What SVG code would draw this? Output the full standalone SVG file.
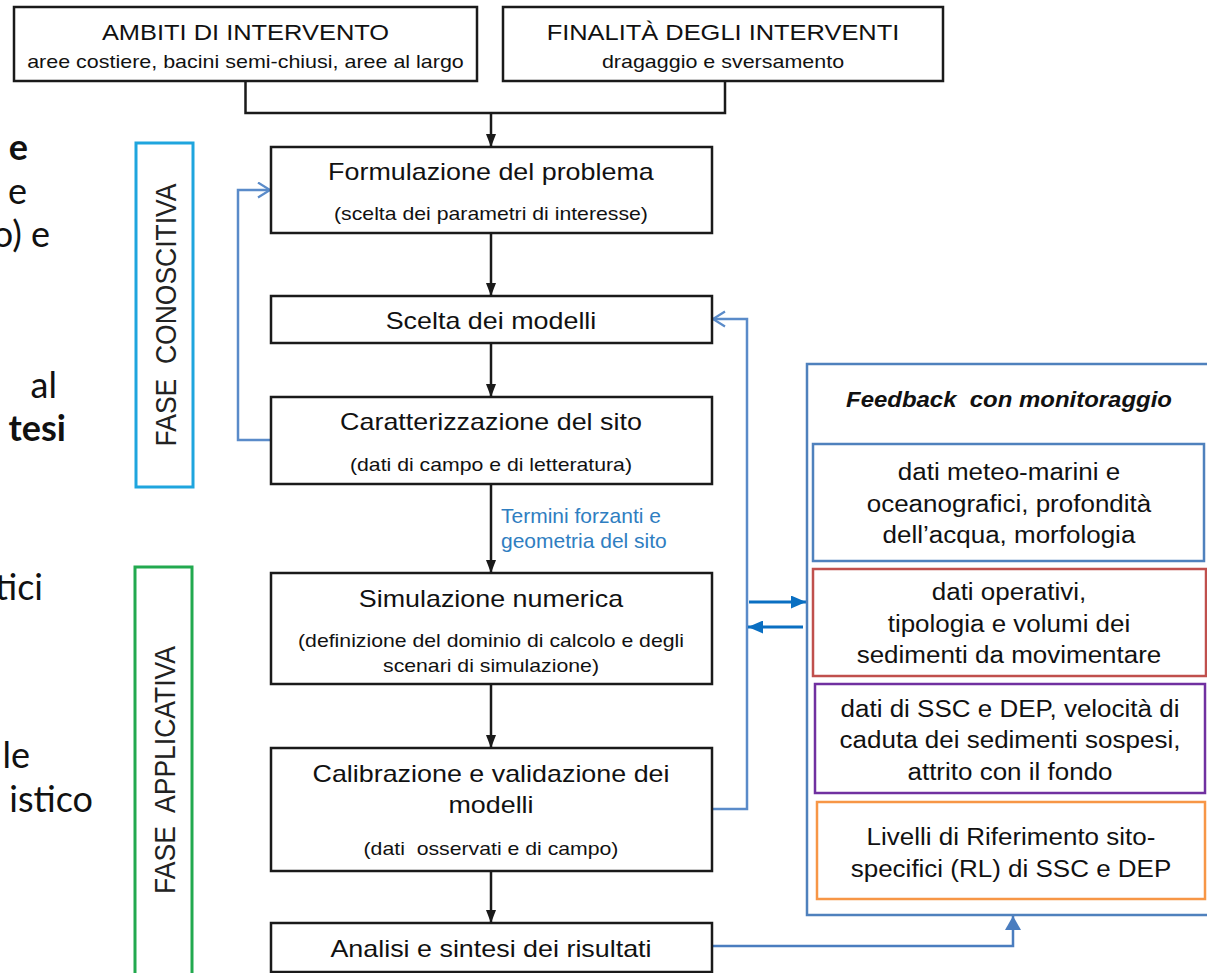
<svg xmlns="http://www.w3.org/2000/svg" width="1207" height="973" viewBox="0 0 1207 973">
  <style>
    .box { fill: #ffffff; stroke: #1a1a1a; stroke-width: 2.5; }
    .t { font-family: "Liberation Sans", Arial, sans-serif; fill: #111111; text-anchor: middle;
         transform-box: fill-box; transform-origin: center; transform: scaleX(1.13); }
    .title { font-size: 23.8px; }
    .sub { font-size: 18.8px; }
    .top { font-size: 22.5px; }
    .topsub { font-size: 19px; }
    .panel { font-size: 23px; }
    .fb { font-size: 21.2px; font-weight: bold; font-style: italic; }
    .vlab { font-family: "Liberation Sans", Arial, sans-serif; font-size: 26.5px; fill: #222222; text-anchor: middle; }
    .lbl { font-family: "Liberation Sans", Arial, sans-serif; font-size: 21px; fill: #2f7ec1; }
    .slide { font-family: Lato, "Open Sans", sans-serif; font-size: 36px; fill: #111111; text-anchor: end; }
    .bold { font-weight: bold; }
    .conn { fill: none; stroke: #1a1a1a; stroke-width: 2.5; }
    .loop { fill: none; stroke: #5a8bc9; stroke-width: 2.5; }
    .dbl { fill: none; stroke: #0a6fc2; stroke-width: 3; }
    .up { fill: none; stroke: #4a7dbf; stroke-width: 2.5; }
  </style>
  <defs>
    <marker id="ah" markerUnits="userSpaceOnUse" markerWidth="13" markerHeight="10" refX="13" refY="5" orient="auto">
      <path d="M0,0 L13,5 L0,10 z" fill="#1a1a1a"/>
    </marker>
    <marker id="chev" markerUnits="userSpaceOnUse" markerWidth="16" markerHeight="18" refX="13" refY="8.5" orient="auto">
      <path d="M1,1 L13,8.5 L1,16" fill="none" stroke="#5a8bc9" stroke-width="2.2"/>
    </marker>
    <marker id="solid" markerUnits="userSpaceOnUse" markerWidth="15" markerHeight="13" refX="15" refY="6.5" orient="auto">
      <path d="M0,0 L15,6.5 L0,13 z" fill="#0a6fc2"/>
    </marker>
    <marker id="solidUp" markerUnits="userSpaceOnUse" markerWidth="14" markerHeight="16" refX="14" refY="8" orient="auto">
      <path d="M0,0 L14,8 L0,16 z" fill="#4a7dbf"/>
    </marker>
  </defs>

  <rect width="1207" height="973" fill="#ffffff"/>

  <!-- slide text running behind the chart (line endings only) -->
  <g id="slide-text">
    <text class="slide bold" x="28" y="160">e</text>
    <text class="slide" x="27" y="204">e</text>
    <text class="slide" x="50" y="247">o) e</text>
    <text class="slide" x="57" y="398">al</text>
    <text class="slide bold" x="66" y="441">tesi</text>
    <text class="slide" x="43" y="600">tici</text>
    <text class="slide" x="30" y="768">le</text>
    <text class="slide" x="93" y="812">istico</text>
  </g>

  <!-- connectors -->
  <g id="connectors">
    <path class="conn" d="M245.5,81 V113 H725 V81"/>
    <path class="conn" d="M491,113 V147" marker-end="url(#ah)"/>
    <path class="conn" d="M491,233 V296" marker-end="url(#ah)"/>
    <path class="conn" d="M491,343 V397" marker-end="url(#ah)"/>
    <path class="conn" d="M491,484 V573" marker-end="url(#ah)"/>
    <path class="conn" d="M491,684 V748" marker-end="url(#ah)"/>
    <path class="conn" d="M491,871 V923" marker-end="url(#ah)"/>
    <path class="loop" d="M271,440 H238 V190 H270" marker-end="url(#chev)"/>
    <path class="loop" d="M712,809 H747 V319 H713" marker-end="url(#chev)"/>
    <path class="dbl" d="M749,602 H806" marker-end="url(#solid)"/>
    <path class="dbl" d="M803,627 H748" marker-end="url(#solid)"/>
    <path class="up" d="M712,946 H1013 V916" marker-end="url(#solidUp)"/>
    <text class="lbl" x="501" y="523">Termini forzanti e</text>
    <text class="lbl" x="501" y="548">geometria del sito</text>
  </g>

  <g id="n-ambiti">
    <rect class="box" x="14" y="7" width="463" height="74"/>
    <text class="t top" x="245.5" y="40">AMBITI DI INTERVENTO</text>
    <text class="t topsub" x="245.5" y="68">aree costiere, bacini semi-chiusi, aree al largo</text>
  </g>

  <g id="n-finalita">
    <rect class="box" x="503" y="7" width="440" height="74"/>
    <text class="t top" x="723" y="40">FINALITÀ DEGLI INTERVENTI</text>
    <text class="t topsub" x="723" y="68">dragaggio e sversamento</text>
  </g>

  <g id="n-fase-conoscitiva">
    <rect x="136" y="143" width="57" height="344" fill="none" stroke="#1fa5de" stroke-width="3"/>
    <text class="vlab" xml:space="preserve" dy="0.36em" transform="translate(165,315) scale(1.13,1) rotate(-90)">FASE  CONOSCITIVA</text>
  </g>

  <g id="n-fase-applicativa">
    <rect x="135" y="567" width="57" height="420" fill="none" stroke="#22a94f" stroke-width="3"/>
    <text class="vlab" xml:space="preserve" dy="0.36em" transform="translate(164,770) scale(1.13,1) rotate(-90)">FASE  APPLICATIVA</text>
  </g>

  <g id="n-formulazione">
    <rect class="box" x="271" y="147" width="441" height="86"/>
    <text class="t title" x="491" y="180">Formulazione del problema</text>
    <text class="t sub" x="491" y="220">(scelta dei parametri di interesse)</text>
  </g>

  <g id="n-scelta">
    <rect class="box" x="271" y="296" width="441" height="47"/>
    <text class="t title" x="491" y="329">Scelta dei modelli</text>
  </g>

  <g id="n-caratterizzazione">
    <rect class="box" x="271" y="397" width="441" height="87"/>
    <text class="t title" x="491" y="430">Caratterizzazione del sito</text>
    <text class="t sub" x="491" y="471">(dati di campo e di letteratura)</text>
  </g>

  <g id="n-simulazione">
    <rect class="box" x="271" y="573" width="441" height="111"/>
    <text class="t title" x="491" y="607">Simulazione numerica</text>
    <text class="t sub" x="491" y="647">(definizione del dominio di calcolo e degli</text>
    <text class="t sub" x="491" y="672">scenari di simulazione)</text>
  </g>

  <g id="n-calibrazione">
    <rect class="box" x="271" y="748" width="441" height="123"/>
    <text class="t title" x="491" y="782">Calibrazione e validazione dei</text>
    <text class="t title" x="491" y="813">modelli</text>
    <text class="t sub" x="491" y="855" xml:space="preserve">(dati  osservati e di campo)</text>
  </g>

  <g id="n-analisi">
    <rect class="box" x="271" y="923" width="441" height="49"/>
    <text class="t title" x="491" y="957">Analisi e sintesi dei risultati</text>
  </g>

  <g id="n-feedback">
    <rect x="807" y="364" width="420" height="551" fill="none" stroke="#4f81bd" stroke-width="2.5"/>
    <text class="t fb" x="1009" y="407" xml:space="preserve">Feedback  con monitoraggio</text>
  </g>

  <g id="n-meteo">
    <rect x="813" y="444" width="391" height="117" fill="#ffffff" stroke="#4f81bd" stroke-width="2.5"/>
    <text class="t panel" x="1009" y="480">dati meteo-marini e</text>
    <text class="t panel" x="1009" y="512">oceanografici, profondità</text>
    <text class="t panel" x="1009" y="543">dell’acqua, morfologia</text>
  </g>

  <g id="n-operativi">
    <rect x="813" y="569" width="393" height="107" fill="#ffffff" stroke="#c0504d" stroke-width="2.5"/>
    <text class="t panel" x="1009" y="600">dati operativi,</text>
    <text class="t panel" x="1009" y="632">tipologia e volumi dei</text>
    <text class="t panel" x="1009" y="663">sedimenti da movimentare</text>
  </g>

  <g id="n-ssc">
    <rect x="815" y="684" width="390" height="109" fill="#ffffff" stroke="#7030a0" stroke-width="2.5"/>
    <text class="t panel" x="1010" y="717">dati di SSC e DEP, velocità di</text>
    <text class="t panel" x="1010" y="748">caduta dei sedimenti sospesi,</text>
    <text class="t panel" x="1010" y="780">attrito con il fondo</text>
  </g>

  <g id="n-rl">
    <rect x="817" y="802" width="388" height="97" fill="#ffffff" stroke="#f79646" stroke-width="2.5"/>
    <text class="t panel" x="1011" y="845">Livelli di Riferimento sito-</text>
    <text class="t panel" x="1011" y="877">specifici (RL) di SSC e DEP</text>
  </g>
</svg>
